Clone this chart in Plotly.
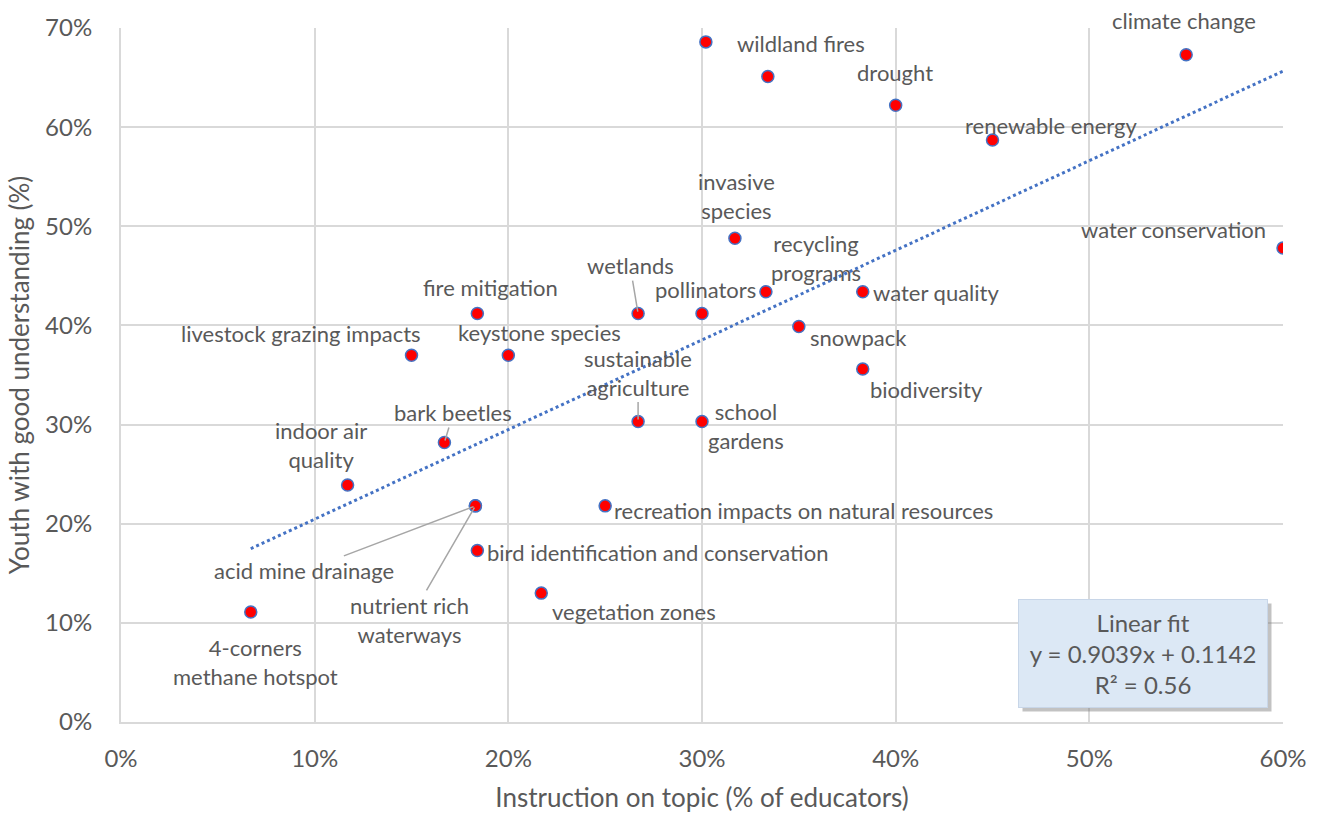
import plotly.graph_objects as go

# ---- data ----
topics = ["4-corners<br>methane hotspot", "indoor air<br>quality", "acid mine drainage",
          "nutrient rich<br>waterways", "bird identification and conservation", "vegetation zones",
          "bark beetles", "livestock grazing impacts", "fire mitigation", "keystone species",
          "sustainable<br>agriculture", "wetlands", "recreation impacts on natural resources",
          "school<br>gardens", "pollinators", "invasive<br>species", "recycling<br>programs",
          "wildland fires", "", "drought", "snowpack", "water quality", "biodiversity",
          "renewable energy", "climate change", "water conservation"]
instruction = [0.067, 0.117, 0.183, 0.183, 0.184, 0.217, 0.167, 0.150, 0.184, 0.200,
               0.267, 0.267, 0.250, 0.300, 0.300, 0.317, 0.333, 0.302, 0.334, 0.400,
               0.350, 0.383, 0.383, 0.450, 0.550, 0.600]
understanding = [0.111, 0.239, 0.218, 0.218, 0.173, 0.130, 0.282, 0.370, 0.412, 0.370,
                 0.303, 0.412, 0.218, 0.303, 0.412, 0.488, 0.434, 0.686, 0.651, 0.622,
                 0.399, 0.434, 0.356, 0.587, 0.673, 0.478]
fit_slope, fit_intercept, fit_r2 = 0.9039, 0.1142, 0.56
x_ticks = [0, 0.1, 0.2, 0.3, 0.4, 0.5, 0.6]
y_ticks = [0, 0.1, 0.2, 0.3, 0.4, 0.5, 0.6, 0.7]

# ---- label placement (pixel offsets: dx, dy(up positive), anchor, leader) ----
label_style = {
    "4-corners<br>methane hotspot": (5, -50, "center", False),
    "indoor air<br>quality": (-27, 40, "center", False),
    "acid mine drainage": (-171, -65, "center", True),
    "nutrient rich<br>waterways": (-66, -114, "center", True),
    "bird identification and conservation": (8, -2, "left", False),
    "vegetation zones": (9, -18, "left", False),
    "bark beetles": (9, 30, "center", True),
    "livestock grazing impacts": (11, 22, "right", False),
    "fire mitigation": (13, 26, "center", False),
    "keystone species": (31, 23, "center", False),
    "sustainable<br>agriculture": (0, 49, "center", True),
    "wetlands": (-8, 48, "center", True),
    "recreation impacts on natural resources": (7, -5, "left", False),
    "school<br>gardens": (44, -4, "center", False),
    "pollinators": (3, 24, "center", False),
    "invasive<br>species": (2, 42, "center", False),
    "recycling<br>programs": (50, 34, "center", False),
    "wildland fires": (29, -2, "left", False),
    "drought": (-1, 33, "center", False),
    "snowpack": (9, -11, "left", False),
    "water quality": (8, -1, "left", False),
    "biodiversity": (5, -20, "left", False),
    "renewable energy": (59, 15, "center", False),
    "climate change": (-2, 34, "center", False),
    "water conservation": (-15, 19, "right", False),
}

FONT = "Lato"
GREY = "#595959"
BLUE = "#4472c4"
LABEL_SIZE = 22

fig = go.Figure()

x0, x1 = min(instruction), max(instruction)
fig.add_trace(go.Scatter(
    x=[x0, x1], y=[fit_slope * x0 + fit_intercept, fit_slope * x1 + fit_intercept],
    mode="lines", line=dict(color=BLUE, width=3, dash="dot"), hoverinfo="skip"))

fig.add_trace(go.Scatter(
    x=instruction, y=understanding, mode="markers",
    marker=dict(color="#ff0000", size=12, line=dict(color=BLUE, width=1.5))))

annotations = []
for name, xv, yv in zip(topics, instruction, understanding):
    if not name:
        continue
    dx, dy, anchor, leader = label_style[name]
    if leader:
        annotations.append(dict(
            x=xv, y=yv, text=name, showarrow=True, arrowhead=0, arrowwidth=1.5,
            arrowcolor="#a6a6a6", ax=dx, ay=-dy, standoff=2,
            font=dict(family=FONT, size=LABEL_SIZE, color=GREY)))
    else:
        annotations.append(dict(
            x=xv, y=yv, text=name, showarrow=False, xanchor=anchor, yanchor="middle",
            xshift=dx, yshift=dy, font=dict(family=FONT, size=LABEL_SIZE, color=GREY)))

fit_text = f"Linear fit<br>y = {fit_slope}x + {fit_intercept}<br>R² = {fit_r2}"
# shadow (blank box of the same size)
annotations.append(dict(
    xref="paper", yref="paper", x=0.8795, y=0.098, text="&nbsp;<br>&nbsp;<br>&nbsp;",
    showarrow=False, xanchor="center", yanchor="middle", xshift=4, yshift=-4,
    font=dict(family=FONT, size=24, color="rgba(0,0,0,0)"),
    bgcolor="rgba(120,120,120,0.45)", borderpad=8, width=232))
annotations.append(dict(
    xref="paper", yref="paper", x=0.8795, y=0.098, text=fit_text, showarrow=False,
    xanchor="center", yanchor="middle",
    font=dict(family=FONT, size=24, color=GREY),
    bgcolor="#dce8f5", bordercolor="#c8d6e8", borderwidth=1, borderpad=8, width=232))

fig.update_layout(
    width=1323, height=813,
    margin=dict(l=121, r=40, t=28, b=91),
    paper_bgcolor="white", plot_bgcolor="white",
    showlegend=False,
    font=dict(family=FONT, color=GREY),
    annotations=annotations,
    xaxis=dict(range=[0, 0.6], tickvals=x_ticks, tickformat=".0%", automargin=False,
               showgrid=True, gridcolor="#d9d9d9", gridwidth=2,
               showline=True, linecolor="#d9d9d9", linewidth=2, zeroline=False,
               tickfont=dict(family=FONT, size=24, color=GREY), ticks="",
               ticklabelstandoff=14,
               title=dict(text="Instruction on topic (% of educators)",
                          font=dict(family=FONT, size=26, color=GREY), standoff=20)),
    yaxis=dict(range=[0, 0.7], tickvals=y_ticks, tickformat=".0%", automargin=False,
               showgrid=True, gridcolor="#d9d9d9", gridwidth=2,
               showline=True, linecolor="#d9d9d9", linewidth=2, zeroline=False,
               tickfont=dict(family=FONT, size=24, color=GREY), ticks="",
               ticklabelstandoff=22,
               title=dict(text="Youth with good understanding (%)",
                          font=dict(family=FONT, size=26, color=GREY), standoff=8)),
)

fig.write_html("out.html", config={"displayModeBar": False},
               post_script="document.body.style.margin='0px';")
